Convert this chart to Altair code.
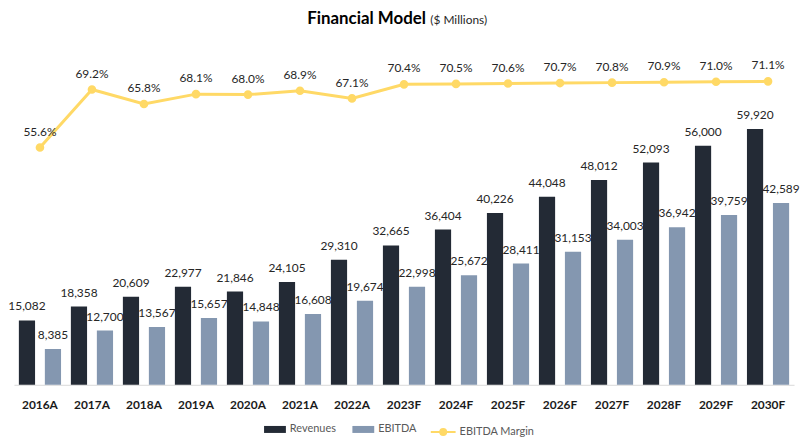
import altair as alt
import pandas as pd

years = ["2016A", "2017A", "2018A", "2019A", "2020A", "2021A", "2022A", "2023F",
         "2024F", "2025F", "2026F", "2027F", "2028F", "2029F", "2030F"]
revenues = [15082, 18358, 20609, 22977, 21846, 24105, 29310, 32665,
            36404, 40226, 44048, 48012, 52093, 56000, 59920]
ebitda = [8385, 12700, 13567, 15657, 14848, 16608, 19674, 22998,
          25672, 28411, 31153, 34003, 36942, 39759, 42589]
margin = [55.6, 69.2, 65.8, 68.1, 68.0, 68.9, 67.1, 70.4,
          70.5, 70.6, 70.7, 70.8, 70.9, 71.0, 71.1]

series = ["Revenues", "EBITDA"]
bar_colors = ["#232A35", "#8497B0"]
line_color = "#FFD966"
FONT = "Lato"

bar_df = pd.DataFrame(
    [{"Year": y, "Series": "Revenues", "Value": v} for y, v in zip(years, revenues)]
    + [{"Year": y, "Series": "EBITDA", "Value": v} for y, v in zip(years, ebitda)]
)
line_df = pd.DataFrame({"Year": years, "Margin": margin, "Series": "EBITDA Margin"})

x_enc = alt.X(
    "Year:N", sort=years, title=None,
    scale=alt.Scale(paddingInner=0.189, paddingOuter=0.0945),
    axis=alt.Axis(labelFontWeight="bold", labelFontSize=12, labelColor="#1a1a1a",
                  labelPadding=15, ticks=False, domainColor="#D9D9D9", grid=False,
                  labelAngle=0),
)
xoff = alt.XOffset("Series:N", sort=series, scale=alt.Scale(paddingInner=0.377))
y_bar = alt.Y("Value:Q", scale=alt.Scale(domain=[0, 80000]), axis=None)

bars = alt.Chart(bar_df).mark_bar().encode(
    x=x_enc, xOffset=xoff, y=y_bar,
    color=alt.Color("Series:N", sort=series,
                    scale=alt.Scale(domain=series, range=bar_colors),
                    legend=alt.Legend(title=None, orient="none", direction="horizontal",
                                      legendX=252, legendY=378, padding=0,
                                      symbolType="M-1,-0.32H1V0.32H-1Z", symbolSize=484,
                                      symbolStrokeWidth=0, labelFontSize=11,
                                      labelColor="#595959", columnPadding=16,
                                      labelOffset=4)),
)
bar_text = alt.Chart(bar_df).mark_text(baseline="bottom", dy=-7, fontSize=12,
                                       color="#262626").encode(
    x=alt.X("Year:N", sort=years), xOffset=xoff, y=y_bar,
    text=alt.Text("Value:Q", format=","),
)

# top x axis of the margin layer carries the chart title (no labels/ticks)
x_top = alt.X(
    "Year:N", sort=years,
    axis=alt.Axis(orient="top", title="Financial Model", labels=False, ticks=False,
                  domain=False, grid=False, titleX=295, titleY=-20, titleAngle=0,
                  titleAlign="left", titleBaseline="alphabetic", titleFontSize=17,
                  titleFontWeight="bold", titleColor="#000000", titleFont=FONT),
)
# secondary (hidden) y axis for the margin line; its title carries the unit note
y_line = alt.Y(
    "Margin:Q", scale=alt.Scale(domain=[0, 80]),
    axis=alt.Axis(orient="right", title="($ Millions)", labels=False, ticks=False,
                  domain=False, grid=False, titleAngle=0, titleAlign="left",
                  titleBaseline="alphabetic", titleX=-367, titleY=-20,
                  titleFontSize=12, titleFontWeight="normal", titleColor="#262626",
                  titleFont=FONT),
)
line = alt.Chart(line_df).mark_line(
    strokeWidth=3,
    point=alt.OverlayMarkDef(filled=True, size=45, color=line_color),
).encode(
    x=x_top, y=y_line,
    stroke=alt.Stroke("Series:N",
                      scale=alt.Scale(domain=["EBITDA Margin"], range=[line_color]),
                      legend=alt.Legend(title=None, orient="none", direction="horizontal",
                                        legendX=419, legendY=378, padding=0,
                                        symbolType="M-1,0H1M0.24,0A0.24,0.24 0 1,1 -0.24,0A0.24,0.24 0 1,1 0.24,0",
                                        symbolSize=625, symbolStrokeWidth=2,
                                        symbolFillColor=line_color,
                                        labelFontSize=11, labelColor="#595959",
                                        labelOffset=3)),
)
line_text = alt.Chart(line_df).transform_calculate(
    label="format(datum.Margin / 100, '.1%')"
).mark_text(baseline="bottom", dy=-9, fontSize=12, color="#262626").encode(
    x=alt.X("Year:N", sort=years), y=alt.Y("Margin:Q"), text="label:N",
)

chart = alt.layer(
    alt.layer(bars, bar_text),
    alt.layer(line, line_text),
).resolve_scale(y="independent").resolve_axis(x="independent").properties(
    width=786, height=344,
    padding={"left": 0, "right": 0, "top": 0, "bottom": 0},
).configure(font=FONT).configure_view(stroke=None)

chart.save("out.html", embed_options={"renderer": "svg", "actions": False})
